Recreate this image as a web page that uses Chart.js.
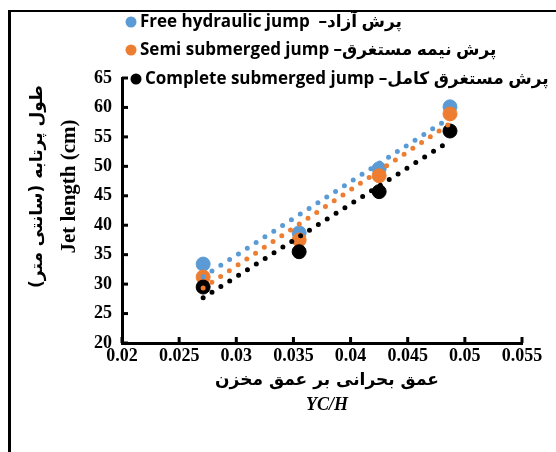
<!DOCTYPE html>
<html>
<head>
<meta charset="utf-8">
<script src="https://cdn.jsdelivr.net/npm/chart.js@4/dist/chart.umd.min.js"></script>
<style>
html, body { margin: 0; padding: 0; background: #fff; }
#wrap { position: relative; width: 556px; height: 452px; }
</style>
</head>
<body>
<div id="wrap"><canvas id="jetChart" width="556" height="452"></canvas></div>
<script>
// YC/H values, same for the three series
const ratioYcH = [0.0271, 0.0355, 0.0425, 0.0487];
const freeJump = [33.4, 38.7, 49.6, 60.1];
const semiJump = [31.2, 37.5, 48.4, 58.9];
const completeJump = [29.5, 35.5, 45.7, 56.0];

const seriesNames = [
    'Free hydraulic jump  –پرش آزاد',
    'Semi submerged jump –پرش نیمه مستغرق',
    'Complete submerged jump –پرش مستغرق کامل'
];
const seriesColors = ['#5b9bd5', '#ed7d31', '#000000'];

const xTicks = [0.02, 0.025, 0.03, 0.035, 0.04, 0.045, 0.05, 0.055];
const yTicks = [20, 25, 30, 35, 40, 45, 50, 55, 60, 65];

const yTitle = ['\u200Fطول پرتابه (سانتی متر)\u200F', 'Jet length (cm)'];
const xTitle = ['عمق بحرانی بر عمق مخزن', 'YC/H'];

// linear trendline (least squares), as the spreadsheet draws it
function trend(xs, ys) {
    const n = xs.length;
    const mx = xs.reduce((a, b) => a + b, 0) / n;
    const my = ys.reduce((a, b) => a + b, 0) / n;
    let sxy = 0, sxx = 0;
    xs.forEach((x, i) => { sxy += (x - mx) * (ys[i] - my); sxx += (x - mx) * (x - mx); });
    const k = sxy / sxx;
    return [xs[0], xs[n - 1]].map(x => ({ x: x, y: my + k * (x - mx) }));
}

const pts = ys => ratioYcH.map((x, i) => ({ x: x, y: ys[i] }));
const allSeries = [freeJump, semiJump, completeJump];

const datasets = [];
allSeries.forEach((ys, i) => {
    datasets.push({
        label: seriesNames[i],
        data: pts(ys),
        backgroundColor: seriesColors[i],
        borderColor: seriesColors[i],
        pointRadius: 7,
        pointHoverRadius: 7,
        order: 3 - i
    });
});
allSeries.forEach((ys, i) => {
    datasets.push({
        label: 'trend ' + i,
        data: trend(ratioYcH, ys),
        showLine: true,
        borderColor: seriesColors[i],
        borderWidth: 5,
        borderDash: [0, 10.5],
        borderCapStyle: 'round',
        pointRadius: 0,
        fill: false,
        order: 0
    });
});

Chart.defaults.font.family = '"Liberation Serif", serif';
Chart.defaults.color = '#000';
const tickFont = { family: '"Liberation Serif", serif', size: 18, weight: 'bold' };

const decorPlugin = {
    id: 'decor',
    afterDraw(chart) {
        const ctx = chart.ctx;
        const xs = chart.scales.x, ys = chart.scales.y;
        const area = chart.chartArea;
        ctx.save();

        // outer frame (left + top only visible)
        ctx.strokeStyle = '#000';
        ctx.lineWidth = 3;
        ctx.beginPath();
        ctx.moveTo(9.5, 452);
        ctx.lineTo(9.5, 11);
        ctx.stroke();
        ctx.lineWidth = 2;
        ctx.beginPath();
        ctx.moveTo(8, 11);
        ctx.lineTo(556, 11);
        ctx.stroke();

        // inward tick marks
        ctx.lineWidth = 3;
        ys.ticks.forEach((t, i) => {
            const py = ys.getPixelForTick(i);
            ctx.beginPath();
            ctx.moveTo(area.left, py);
            ctx.lineTo(area.left + 6, py);
            ctx.stroke();
        });
        xs.ticks.forEach((t, i) => {
            const px = xs.getPixelForTick(i);
            ctx.beginPath();
            ctx.moveTo(px, area.bottom);
            ctx.lineTo(px, area.bottom - 6);
            ctx.stroke();
        });

        // axis titles
        ctx.fillStyle = '#000';
        ctx.textAlign = 'center';
        ctx.textBaseline = 'middle';
        const midY = (area.top + area.bottom) / 2 - 24;
        ctx.save();
        ctx.translate(38, midY);
        ctx.rotate(-Math.PI / 2);
        ctx.font = 'bold 17px "DejaVu Sans", sans-serif';
        ctx.fillText(yTitle[0], 0, 0);
        ctx.restore();
        ctx.save();
        ctx.translate(70, midY);
        ctx.rotate(-Math.PI / 2);
        ctx.font = 'bold 21px "Liberation Serif", serif';
        ctx.fillText(yTitle[1], 0, 0);
        ctx.restore();

        const midX = (area.left + area.right) / 2 + 5;
        ctx.font = 'bold 17px "DejaVu Sans", sans-serif';
        ctx.fillText(xTitle[0], midX, 381);
        ctx.font = 'italic bold 18px "Liberation Serif", serif';
        ctx.fillText(xTitle[1], midX, 405);

        // legend
        const rows = [22, 50, 79];
        const marks = [131, 131, 136];
        ctx.textAlign = 'left';
        ctx.font = 'bold 17px "Open Sans", "DejaVu Sans", sans-serif';
        seriesNames.forEach((name, i) => {
            ctx.fillStyle = seriesColors[i];
            ctx.beginPath();
            ctx.arc(marks[i], rows[i], 5.5, 0, Math.PI * 2);
            ctx.fill();
            ctx.fillStyle = '#000';
            ctx.fillText(name, marks[i] + 9, rows[i]);
        });

        ctx.restore();
    }
};

new Chart(document.getElementById('jetChart'), {
    type: 'scatter',
    data: { datasets: datasets },
    options: {
        responsive: false,
        animation: false,
        layout: { padding: { top: 78, right: 34, left: 0, bottom: 0 } },
        plugins: { legend: { display: false }, tooltip: { enabled: false } },
        scales: {
            x: {
                type: 'linear',
                min: 0.02,
                max: 0.055,
                grid: { display: false, drawTicks: false },
                border: { display: true, color: '#000', width: 3 },
                ticks: { color: '#000', font: tickFont, padding: 3, maxRotation: 0,
                    callback: v => String(+v.toFixed(3)) },
                afterBuildTicks: s => { s.ticks = xTicks.map(v => ({ value: v })); },
                afterFit: s => { s.height = 109; }
            },
            y: {
                min: 20,
                max: 65,
                grid: { display: false, drawTicks: false },
                border: { display: true, color: '#000', width: 3 },
                ticks: { color: '#000', font: tickFont, padding: 10 },
                afterBuildTicks: s => { s.ticks = yTicks.map(v => ({ value: v })); },
                afterFit: s => { s.width = 122; }
            }
        }
    },
    plugins: [decorPlugin]
});
</script>
</body>
</html>
